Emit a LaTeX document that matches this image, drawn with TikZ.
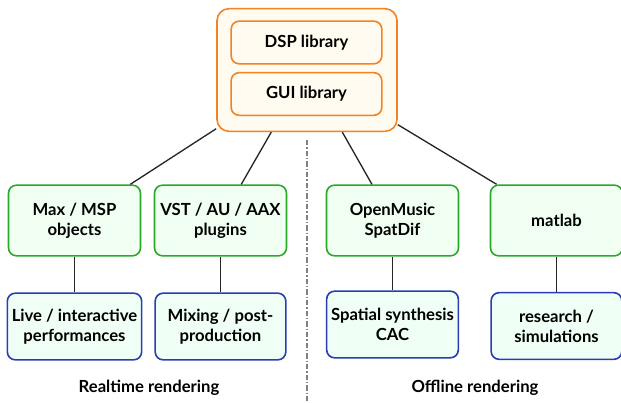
\documentclass[tikz,border=0pt]{standalone}
\usepackage{fontspec}
\setmainfont{Lato}
\usepackage{tikz}
\usetikzlibrary{calc}
\usetikzlibrary{shapes}
\definecolor{orangeline}{RGB}{245,130,32}
\definecolor{orangefill}{RGB}{255,251,240}
\definecolor{greenline}{RGB}{40,170,40}
\definecolor{greenfill}{RGB}{240,255,242}
\definecolor{blueline}{RGB}{40,60,180}
\definecolor{bluefill}{RGB}{240,255,246}
\tikzset{
    libbox/.style={draw=orangeline, fill=orangefill, line width=1.2pt, rounded corners=6pt, minimum width=113pt, minimum height=32pt, font=\bfseries\fontsize{12.5}{14}\selectfont},
    toolbox/.style={draw=greenline, fill=greenfill, line width=1.2pt, rounded corners=6pt, minimum width=99pt, minimum height=53pt, align=center, font=\bfseries\fontsize{12.5}{15}\selectfont},
    usebox/.style={draw=blueline, fill=bluefill, line width=1.2pt, rounded corners=6pt, minimum width=98pt, minimum height=50pt, align=center, font=\bfseries\fontsize{12.5}{15}\selectfont},
    link/.style={line width=1pt, black!85}
}

\begin{document}
\begin{tikzpicture}[x=0.75pt,y=-0.75pt]
    \useasboundingbox (0,0) rectangle (621,403);
    %separator
    \draw[gray, line width=1pt, dash pattern=on 4pt off 1.5pt on 1pt off 1.5pt] (307,140) -- (307,403);
    %libraries
    \node[draw=orangeline, fill=orangefill, line width=1.2pt, rounded corners=9pt, minimum width=135pt, minimum height=92pt] (lib) at (307,70) {};
    \node[libbox] (dsp) at (306.5,42.5) {DSP library};
    \node[libbox] (gui) at (306.5,94) {GUI library};
    %tools
    \node[toolbox] (max) at (74.5,220.5) {Max / MSP\\objects};
    \node[toolbox] (vst) at (220.5,220.5) {VST / AU / AAX\\plugins};
    \node[toolbox] (om) at (392.5,220.5) {OpenMusic\\SpatDif};
    \node[toolbox] (mat) at (556.5,220.5) {matlab};
    %uses
    \node[usebox] (live) at (74.5,326.5) {Live / interactive\\performances};
    \node[usebox] (mix) at (220.5,326.5) {Mixing / post-\\production};
    \node[usebox] (spat) at (392.5,324.5) {Spatial synthesis\\CAC};
    \node[usebox] (res) at (556.5,326) {research /\\simulations};
    \foreach \tool in {max, vst, om, mat} {
        \draw[link] (lib) -- (\tool);}
    \draw[link] (max) -- (live);
    \draw[link] (vst) -- (mix);
    \draw[link] (om) -- (spat);
    \draw[link] (mat) -- (res);
    %captions
    \node[font=\bfseries\fontsize{12.5}{14}\selectfont] (realtime) at (149,388) {Realtime rendering};
    \node[font=\bfseries\fontsize{12.5}{14}\selectfont] (offline) at (475,388) {Offline rendering};
\end{tikzpicture}
\end{document}
